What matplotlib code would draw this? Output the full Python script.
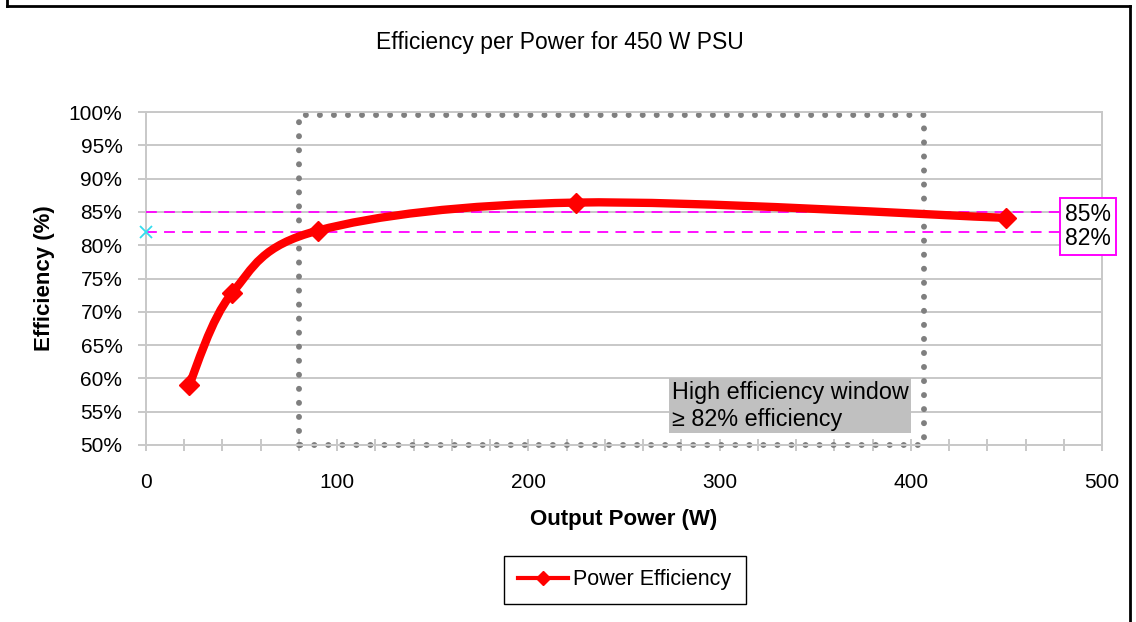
import matplotlib
matplotlib.use('Agg')
import matplotlib.pyplot as plt
from matplotlib.path import Path
from matplotlib.patches import PathPatch
from matplotlib.lines import Line2D
from matplotlib.ticker import MultipleLocator, FuncFormatter

plt.rcParams['font.family'] = ['Liberation Sans', 'DejaVu Sans']

# data
power_w = [22.5, 45, 90, 225, 450]
efficiency_pct = [59.0, 72.8, 82.2, 86.4, 84.1]
window_w = [80, 407]          # high efficiency window (dotted box)
ref_levels = [85, 82]         # magenta dashed reference lines
ref_labels = ['85%', '82%']

red = '#ff0000'
grid_gray = '#c8c8c8'


def smooth_path(xs, ys):
    # Excel style smoothed line: cubic Bezier with Catmull-Rom control points
    pts = list(zip(xs, ys))
    verts = [pts[0]]
    codes = [Path.MOVETO]
    n = len(pts)
    for i in range(n - 1):
        p0 = pts[i - 1] if i > 0 else pts[i]
        p1 = pts[i]
        p2 = pts[i + 1]
        p3 = pts[i + 2] if i + 2 < n else pts[i + 1]
        c1 = (p1[0] + (p2[0] - p0[0]) / 6, p1[1] + (p2[1] - p0[1]) / 6)
        c2 = (p2[0] - (p3[0] - p1[0]) / 6, p2[1] - (p3[1] - p1[1]) / 6)
        verts += [c1, c2, p2]
        codes += [Path.CURVE4] * 3
    return Path(verts, codes)


fig = plt.figure(figsize=(11.36, 6.22), dpi=100)
ax = fig.add_axes([146 / 1136, 1 - 445 / 622, (1102 - 146) / 1136, (445 - 112) / 622])

ax.set_xlim(0, 500)
ax.set_ylim(50, 100)

# grid
ax.yaxis.set_major_locator(MultipleLocator(5))
ax.grid(axis='y', color=grid_gray, linewidth=1.4, zorder=0)
ax.set_axisbelow(True)
for s in ax.spines.values():
    s.set_color(grid_gray)
    s.set_linewidth(1.4)

ax.xaxis.set_major_locator(MultipleLocator(100))
ax.xaxis.set_minor_locator(MultipleLocator(20))
ax.yaxis.set_major_formatter(FuncFormatter(lambda v, p: f'{v:.0f}%'))
ax.tick_params(axis='x', which='both', direction='inout', length=9, width=1.4,
               color=grid_gray, labelsize=15, pad=16)
ax.tick_params(axis='y', which='major', direction='out', length=6, width=1.4,
               color=grid_gray, labelsize=15, pad=11)

# dotted high efficiency window
dot_kw = dict(color='#7f7f7f', linewidth=4.3, linestyle=(0, (0.01, 2.34)),
              dash_capstyle='round', zorder=2, clip_on=False)
ax.plot([window_w[0], window_w[0], window_w[1], window_w[1], window_w[0]],
        [50, 99.6, 99.6, 50, 50], **dot_kw)

# reference lines
for lvl in ref_levels:
    ax.axhline(lvl, color='#ff00ff', linewidth=1.3, linestyle=(0, (6, 4)), zorder=3)
ax.plot([0], [ref_levels[1]], marker='x', color='#33ddee', markersize=9,
        markeredgewidth=1.3, clip_on=False, zorder=4)

# smoothed efficiency curve
ax.add_patch(PathPatch(smooth_path(power_w, efficiency_pct), facecolor='none',
                       edgecolor=red, linewidth=6, capstyle='round',
                       joinstyle='round', zorder=5))
ax.plot(power_w, efficiency_pct, linestyle='none', marker='D', color=red,
        markersize=10, zorder=6)

# annotation box
ax.text(275, 55.9, 'High efficiency window\n\u2265 82% efficiency', fontsize=16.8,
        ha='left', va='center', linespacing=1.22, zorder=7,
        bbox=dict(boxstyle='square,pad=0.12', facecolor='#c0c0c0', edgecolor='none'))

# 85% / 82% label box
ax.text(492.5, 82.8, '\n'.join(ref_labels), fontsize=16.5, ha='center', va='center',
        linespacing=1.1, zorder=8, clip_on=False,
        bbox=dict(boxstyle='square,pad=0.22', facecolor='white', edgecolor='#ff00ff',
                  linewidth=1.4))

ax.set_xlabel('Output Power (W)', fontsize=16, fontweight='bold', labelpad=12)
ax.set_ylabel('Efficiency (%)', fontsize=16, fontweight='bold', labelpad=10)
fig.text(560 / 1136, 1 - 42 / 622, 'Efficiency per Power for 450 W PSU',
         fontsize=16.5, ha='center', va='center')

legend_line = Line2D([], [], color=red, linewidth=3, marker='D', markersize=7)
fig.legend([legend_line], ['Power Efficiency'], loc='center',
           bbox_to_anchor=(625 / 1136, 1 - 580 / 622), fontsize=15.5,
           frameon=True, fancybox=False, edgecolor='black', framealpha=1,
           handlelength=2.3, borderpad=0.65, handletextpad=0.25)

# outer chart frame
for xs, ys in [([7, 7], [0, 6]), ([7, 1130], [6, 6]), ([1130, 1130], [6, 622])]:
    fig.add_artist(Line2D([x / 1136 for x in xs], [1 - y / 622 for y in ys],
                          color='black', linewidth=2))

fig.savefig('out.png', dpi=100)
